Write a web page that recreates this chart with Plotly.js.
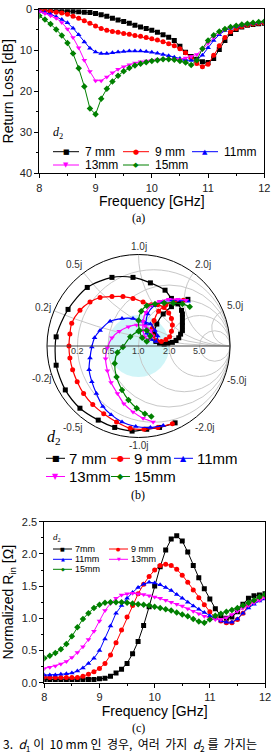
<!DOCTYPE html>
<html><head><meta charset="utf-8">
<script src="https://cdn.plot.ly/plotly-3.0.1.min.js"></script>
<style>html,body{margin:0;padding:0;background:#fff}#chart{width:276px;height:755px}</style>
</head><body><div id="chart"></div>
<script>
const W = 276, H = 755;

// series definitions (d2 sweep)
const seriesNames = ['7 mm', '9 mm', '11mm', '13mm', '15mm'];
const seriesNamesC = ['7mm', '9 mm', '11mm', '13mm', '15mm'];
const colors = ['#000000', '#ff0000', '#0000ff', '#ff00ff', '#008000'];
const symbols = ['square', 'circle', 'triangle-up', 'triangle-down', 'diamond'];
const glyphs = ['\u25A0', '\u25CF', '\u25B2', '\u25BC', '\u25C6'];

// frequency sweep [GHz]
const freq = [8.0, 8.1, 8.2, 8.3, 8.4, 8.5, 8.6, 8.7, 8.8, 8.9,
              9.0, 9.1, 9.2, 9.3, 9.4, 9.5, 9.6, 9.7, 9.8, 9.9,
              10.0, 10.1, 10.2, 10.3, 10.4, 10.5, 10.6, 10.7, 10.8, 10.9,
              11.0, 11.1, 11.2, 11.3, 11.4, 11.5, 11.6, 11.7, 11.8, 11.9, 12.0];

// (a) return loss [dB]
const rl7  = [0.2, 0.2, 0.3, 0.3, 0.4, 0.4, 0.5, 0.6, 0.7, 0.8, 1.0, 1.3, 1.7, 2.2, 2.6, 3.0, 3.4, 3.9, 4.3, 4.7,
              5.1, 5.6, 6.2, 6.8, 7.6, 9.0, 10.5, 11.5, 12.2, 12.8, 13.0, 12.0, 9.8, 7.6, 5.9, 4.9, 4.3, 3.9, 3.7, 3.5, 3.4];
const rl9  = [0.2, 0.3, 0.5, 0.7, 0.9, 1.2, 1.7, 2.2, 2.8, 3.4, 4.1, 4.7, 5.1, 5.4, 5.6, 5.9, 6.1, 6.4, 6.6, 6.9,
              7.2, 7.5, 7.9, 8.4, 8.9, 9.6, 10.6, 11.8, 13.2, 14.0, 13.4, 11.2, 8.9, 6.9, 5.5, 4.7, 4.2, 3.8, 3.6, 3.4, 3.3];
const rl11 = [0.5, 0.8, 1.2, 1.8, 2.5, 3.3, 4.6, 6.2, 8.0, 9.5, 10.4, 10.8, 10.8, 10.6, 10.4, 10.3, 10.2, 10.2, 10.2, 10.3,
              10.5, 10.7, 11.0, 11.3, 11.7, 12.0, 12.3, 12.5, 12.3, 11.2, 9.4, 7.6, 6.2, 5.2, 4.6, 4.2, 3.9, 3.6, 3.4, 3.2, 3.0];
const rl13 = [0.6, 1.0, 1.6, 2.2, 3.2, 4.8, 6.9, 9.4, 12.4, 15.2, 17.4, 17.4, 16.5, 15.5, 14.6, 14.0, 13.5, 13.1, 12.8, 12.6,
              12.4, 12.3, 12.2, 12.2, 12.2, 12.2, 11.9, 11.5, 11.0, 9.8, 8.3, 6.9, 5.8, 5.0, 4.5, 4.1, 3.8, 3.6, 3.4, 3.3, 3.2];
const rl15 = [1.6, 2.5, 3.6, 4.9, 6.4, 8.2, 10.8, 14.4, 18.8, 24.2, 25.6, 21.8, 19.4, 17.6, 16.2, 15.1, 14.3, 13.7, 13.3, 12.9,
              12.6, 12.4, 12.2, 12.2, 12.3, 12.6, 13.0, 13.6, 12.4, 9.6, 7.6, 6.3, 5.4, 4.8, 4.3, 4.0, 3.7, 3.5, 3.3, 3.1, 3.0];

// (b) reflection coefficient S11 (real / imaginary part)
const s7re  = [0.40, 0.23, 0.09, -0.07, -0.26, -0.44, -0.64, -0.80, -0.90, -0.90, -0.77, -0.56, -0.29, -0.06, 0.13, 0.29, 0.36, 0.43, 0.47,
               0.48, 0.48, 0.48, 0.48, 0.48, 0.46, 0.44, 0.41, 0.37, 0.32, 0.28, 0.23, 0.19, 0.17, 0.20, 0.27, 0.36, 0.45, 0.54];
const s7im  = [-0.84, -0.89, -0.91, -0.93, -0.89, -0.81, -0.68, -0.48, -0.21, 0.10, 0.40, 0.64, 0.75, 0.75, 0.69, 0.61, 0.52, 0.46, 0.39,
               0.35, 0.31, 0.26, 0.22, 0.17, 0.13, 0.09, 0.06, 0.04, 0.03, 0.02, 0.03, 0.05, 0.13, 0.24, 0.35, 0.43, 0.48, 0.51];
const s9re  = [0.37, 0.21, 0.06, -0.09, -0.24, -0.38, -0.50, -0.60, -0.67, -0.72, -0.75, -0.76, -0.75, -0.73, -0.64, -0.53, -0.42, -0.29, -0.17, -0.06,
               0.05, 0.14, 0.21, 0.28, 0.33, 0.36, 0.37, 0.36, 0.34, 0.30, 0.25, 0.20, 0.16, 0.15, 0.17, 0.22, 0.30, 0.39, 0.49];
const s9im  = [-0.85, -0.89, -0.91, -0.90, -0.83, -0.74, -0.64, -0.52, -0.39, -0.26, -0.13, 0.00, 0.13, 0.25, 0.39, 0.48, 0.53, 0.54, 0.54, 0.52,
               0.48, 0.45, 0.45, 0.42, 0.36, 0.30, 0.23, 0.16, 0.10, 0.07, 0.05, 0.06, 0.11, 0.19, 0.28, 0.38, 0.45, 0.49, 0.50];
const s11re = [0.27, 0.13, -0.03, -0.18, -0.30, -0.39, -0.46, -0.51, -0.54, -0.53, -0.51, -0.48, -0.42, -0.31, -0.18,
               -0.06, 0.05, 0.13, 0.18, 0.21, 0.19, 0.14, 0.09, 0.08, 0.10, 0.17, 0.26, 0.36, 0.45, 0.54];
const s11im = [-0.87, -0.89, -0.88, -0.83, -0.75, -0.66, -0.52, -0.39, -0.26, -0.13, -0.01, 0.09, 0.17, 0.27, 0.30,
               0.30, 0.27, 0.24, 0.17, 0.11, 0.05, 0.07, 0.14, 0.24, 0.35, 0.44, 0.48, 0.50, 0.50, 0.49];
const s13re = [0.16, 0.05, -0.06, -0.16, -0.23, -0.30, -0.34, -0.36, -0.34, -0.29, -0.21, -0.11, -0.02,
               0.07, 0.13, 0.15, 0.11, 0.07, 0.05, 0.05, 0.08, 0.15, 0.23, 0.33, 0.43, 0.52];
const s13im = [-0.83, -0.79, -0.72, -0.63, -0.52, -0.40, -0.27, -0.14, -0.02, 0.09, 0.16, 0.21, 0.23,
               0.22, 0.17, 0.11, 0.07, 0.10, 0.17, 0.27, 0.37, 0.45, 0.49, 0.51, 0.51, 0.50];
const s15re = [0.14, 0.07, -0.02, -0.11, -0.18, -0.24, -0.26, -0.23, -0.17, -0.09, 0.00, 0.09,
               0.13, 0.09, 0.04, 0.01, 0.00, 0.03, 0.09, 0.18, 0.28, 0.38, 0.48, 0.56];
const s15im = [-0.77, -0.74, -0.68, -0.59, -0.48, -0.34, -0.19, -0.07, -0.01, 0.10, 0.16, 0.17,
               0.11, 0.05, 0.09, 0.17, 0.28, 0.38, 0.44, 0.46, 0.47, 0.47, 0.46, 0.43];

// (c) normalized input resistance
const rin7  = [0.05, 0.05, 0.05, 0.05, 0.05, 0.05, 0.05, 0.05, 0.05, 0.05, 0.06, 0.07, 0.10, 0.15, 0.21, 0.30, 0.45, 0.64, 0.89, 1.18,
               1.50, 1.80, 2.06, 2.23, 2.28, 2.20, 2.03, 1.82, 1.63, 1.46, 1.30, 1.15, 1.04, 1.00, 1.02, 1.10, 1.22, 1.31, 1.35, 1.36, 1.38];
const rin9  = [0.09, 0.08, 0.08, 0.08, 0.08, 0.08, 0.08, 0.10, 0.13, 0.17, 0.22, 0.30, 0.43, 0.62, 0.82, 1.02, 1.20, 1.38, 1.53, 1.65,
               1.75, 1.82, 1.84, 1.82, 1.76, 1.67, 1.56, 1.44, 1.32, 1.21, 1.10, 1.01, 0.96, 0.93, 0.93, 0.98, 1.08, 1.20, 1.27, 1.31, 1.35];
const rin11 = [0.12, 0.12, 0.12, 0.13, 0.14, 0.15, 0.18, 0.23, 0.30, 0.38, 0.50, 0.68, 0.88, 1.08, 1.20, 1.31, 1.40, 1.48, 1.53, 1.56,
               1.55, 1.52, 1.48, 1.43, 1.37, 1.31, 1.25, 1.19, 1.14, 1.09, 1.04, 1.00, 0.96, 0.94, 0.94, 0.99, 1.08, 1.16, 1.22, 1.27, 1.30];
const rin13 = [0.22, 0.24, 0.26, 0.29, 0.33, 0.39, 0.47, 0.56, 0.67, 0.80, 0.96, 1.12, 1.23, 1.31, 1.36, 1.38, 1.39, 1.38, 1.37, 1.35,
               1.33, 1.31, 1.28, 1.25, 1.22, 1.19, 1.15, 1.11, 1.07, 1.03, 1.00, 0.98, 0.98, 1.01, 1.06, 1.11, 1.16, 1.20, 1.24, 1.28, 1.32];
const rin15 = [0.38, 0.42, 0.46, 0.52, 0.60, 0.72, 0.86, 0.99, 1.08, 1.16, 1.21, 1.24, 1.25, 1.25, 1.25, 1.24, 1.23, 1.22, 1.21, 1.20,
               1.18, 1.16, 1.14, 1.12, 1.09, 1.06, 1.03, 0.99, 0.95, 0.93, 0.98, 1.04, 1.07, 1.10, 1.13, 1.16, 1.20, 1.24, 1.28, 1.33, 1.37];

// Smith chart grid values
const smithR = [0.2, 0.5, 1.0, 2.0, 5.0];
const smithX = [0.2, 0.5, 1.0, 2.0, 5.0];

const rlSets  = [rl7, rl9, rl11, rl13, rl15];
const sRe     = [s7re, s9re, s11re, s13re, s15re];
const sIm     = [s7im, s9im, s11im, s13im, s15im];
const rinSets = [rin7, rin9, rin11, rin13, rin15];

// pixel -> paper helpers
const px = x => x / W;
const py = y => 1 - y / H;

// reflection coefficient -> normalized impedance
function toZ(re, im) {
  const r = [], x = [];
  for (let i = 0; i < re.length; i++) {
    const a = re[i], b = im[i];
    const d = (1 - a) * (1 - a) + b * b;
    r.push((1 - a * a - b * b) / d);
    x.push((2 * b) / d);
  }
  return {r, x};
}

const FONT = 'Liberation Sans, Arial, sans-serif';
const SERIF = 'Liberation Serif, Times New Roman, serif';
const traces = [];

for (let k = 0; k < 5; k++) {
  traces.push({
    type: 'scatter', mode: 'lines+markers', x: freq, y: rlSets[k],
    xaxis: 'x', yaxis: 'y', name: seriesNames[k], showlegend: false,
    line: {color: colors[k], width: 1},
    marker: {symbol: symbols[k], size: 5, color: colors[k]}
  });
}
for (let k = 0; k < 5; k++) {
  const z = toZ(sRe[k], sIm[k]);
  traces.push({
    type: 'scattersmith', subplot: 'smith', mode: 'lines+markers',
    real: z.r, imag: z.x, name: seriesNames[k], showlegend: false,
    line: {color: colors[k], width: 1.2, shape: 'spline', smoothing: 0.8},
    marker: {symbol: symbols[k], size: 5, color: colors[k]}
  });
}
for (let k = 0; k < 5; k++) {
  traces.push({
    type: 'scatter', mode: 'lines+markers', x: freq, y: rinSets[k],
    xaxis: 'x2', yaxis: 'y2', name: seriesNamesC[k], showlegend: false,
    line: {color: colors[k], width: 1},
    marker: {symbol: symbols[k], size: 5, color: colors[k]}
  });
}

const shapes = [];
const annotations = [];
function note(x, y, text, size, xa, ya, family, color) {
  annotations.push({xref: 'paper', yref: 'paper', x: px(x), y: py(y), xanchor: xa, yanchor: ya,
    showarrow: false, borderpad: 0, text: text,
    font: {family: family || FONT, size: size, color: color || '#000'}});
}

// hand-placed legend blocks (layout shapes + text)
function legendBlock(opt) {
  note(opt.title[0], opt.title[1], '<i>d</i><sub>2</sub>', opt.titleSize, 'left', 'middle', SERIF);
  opt.cells.forEach((c, k) => {
    const x0 = opt.cols[c[0]], y0 = opt.rows[c[1]];
    shapes.push({type: 'line', xref: 'paper', yref: 'paper',
      x0: px(x0), x1: px(x0 + opt.lineLen), y0: py(y0), y1: py(y0),
      line: {color: colors[k], width: 1}});
    note(x0 + opt.lineLen / 2, y0, glyphs[k], opt.glyph, 'center', 'middle', 'DejaVu Sans', colors[k]);
    note(x0 + opt.textOff, y0, opt.labels[k], opt.font, 'left', 'middle');
  });
}
legendBlock({title: [52, 133], titleSize: 12, cols: [53, 123, 192], rows: [151.7, 165],
  cells: [[0, 0], [1, 0], [2, 0], [0, 1], [1, 1]], lineLen: 26, textOff: 31, font: 12, glyph: 7,
  labels: seriesNames});
legendBlock({title: [46, 437], titleSize: 16, cols: [46, 111, 174], rows: [458.3, 476.5],
  cells: [[0, 0], [1, 0], [2, 0], [0, 1], [1, 1]], lineLen: 19, textOff: 22, font: 15, glyph: 8,
  labels: seriesNames});
legendBlock({title: [52, 537], titleSize: 9, cols: [53, 109], rows: [549, 559.3, 569.3],
  cells: [[0, 0], [1, 0], [0, 1], [1, 1], [0, 2]], lineLen: 19, textOff: 21, font: 9, glyph: 5,
  labels: seriesNamesC});

// panel captions
[['(a)', 218], ['(b)', 495], ['(c)', 728]].forEach(p => note(138, p[1], p[0], 12, 'center', 'middle', SERIF));
note(2, 744, '3.  <i>d</i><sub>1</sub> 이  10 mm 인  경우,  여러  가지  <i>d</i><sub>2</sub> 를  가지는',
  12, 'left', 'middle', 'Noto Sans CJK KR');

// Smith chart geometry (pixels) and its scale labels
const cx = 138.5, cy = 346, R = 91.5;
smithR.forEach(r => {
  const g = (r - 1) / (r + 1);
  note(cx + g * R, 351, r.toFixed(1), 9, 'center', 'middle', FONT, '#333');
});
// reactance labels around the rim: [anchor x, anchor y, offset x, offset y]
const rimAnchors = [['right', 'middle', -2, -3], ['right', 'bottom', -1, -2], ['center', 'bottom', 0, -2],
                    ['left', 'bottom', 1, -2], ['left', 'middle', 3, -5]];
smithX.forEach((xv, i) => {
  const d = xv * xv + 1;
  const gr = (xv * xv - 1) / d, gi = 2 * xv / d;
  const a = rimAnchors[i];
  const rx = cx + gr * R, ryTop = cy - gi * R, ryBot = cy + gi * R;
  note(rx + a[2], ryTop + a[3], xv.toFixed(1) + 'j', 10, a[0], a[1], FONT, '#333');
  const yb = a[1] === 'bottom' ? 'top' : 'middle';
  note(rx + a[2], ryBot - a[3] + (a[1] === 'middle' ? -6 : 0), '-' + xv.toFixed(1) + 'j', 10, a[0], yb, FONT, '#333');
});

// VSWR region on the Smith chart
const vr = 31;
shapes.push({type: 'circle', xref: 'paper', yref: 'paper', layer: 'below',
  x0: px(cx - vr), x1: px(cx + vr), y0: py(cy + vr), y1: py(cy - vr),
  fillcolor: 'rgba(120,225,235,0.35)', line: {width: 0}});

const tickFont = {family: FONT, size: 11, color: '#222'};
const baseAxis = {
  showline: true, linecolor: '#000', linewidth: 1, mirror: true,
  showgrid: false, zeroline: false, ticks: 'outside', ticklen: 4, tickcolor: '#000',
  tickfont: tickFont
};

const layout = {
  width: W, height: H, margin: {l: 0, r: 0, t: 0, b: 0},
  paper_bgcolor: '#fff', plot_bgcolor: 'rgba(0,0,0,0)', showlegend: false,
  font: {family: FONT, color: '#000'},
  xaxis: Object.assign({}, baseAxis, {
    domain: [px(39.3), px(264.3)], anchor: 'y', range: [8, 12], dtick: 1,
    minor: {dtick: 0.5, ticks: 'outside', ticklen: 2, tickcolor: '#000'},
    title: {text: 'Frequency [GHz]', font: {family: FONT, size: 14, color: '#000'}, standoff: 3}
  }),
  yaxis: Object.assign({}, baseAxis, {
    domain: [py(173.3), py(9.3)], anchor: 'x', range: [40, 0], dtick: 10,
    minor: {dtick: 5, ticks: 'outside', ticklen: 2, tickcolor: '#000'},
    title: {text: 'Return Loss [dB]', font: {family: FONT, size: 14, color: '#000'}, standoff: 6}
  }),
  xaxis2: Object.assign({}, baseAxis, {
    domain: [px(44.3), px(265)], anchor: 'y2', range: [8, 12], dtick: 1,
    minor: {dtick: 0.5, ticks: 'outside', ticklen: 2, tickcolor: '#000'},
    title: {text: 'Frequency [GHz]', font: {family: FONT, size: 14, color: '#000'}, standoff: 3}
  }),
  yaxis2: Object.assign({}, baseAxis, {
    domain: [py(682.7), py(521.7)], anchor: 'x2', range: [0, 2.5], dtick: 0.5, tickformat: '.1f',
    minor: {dtick: 0.25, ticks: 'outside', ticklen: 2, tickcolor: '#000'},
    title: {text: 'Normalized R<sub>in</sub> [Ω]', font: {family: FONT, size: 14, color: '#000'}, standoff: 6}
  }),
  smith: {
    domain: {x: [px(cx - R), px(cx + R)], y: [py(cy + R), py(cy - R)]},
    bgcolor: 'rgba(0,0,0,0)',
    realaxis: {
      tickvals: smithR, showticklabels: false, side: 'bottom', tickangle: 0,
      showgrid: true, gridcolor: '#c8c8c8', gridwidth: 1, linecolor: '#444', linewidth: 1, ticks: ''
    },
    imaginaryaxis: {
      tickvals: smithX, showticklabels: false,
      showgrid: true, gridcolor: '#c8c8c8', gridwidth: 1, linecolor: '#000', linewidth: 1, ticks: ''
    }
  },
  shapes: shapes,
  annotations: annotations
};

Plotly.newPlot('chart', traces, layout, {staticPlot: true, displayModeBar: false});
</script>
</body></html>
